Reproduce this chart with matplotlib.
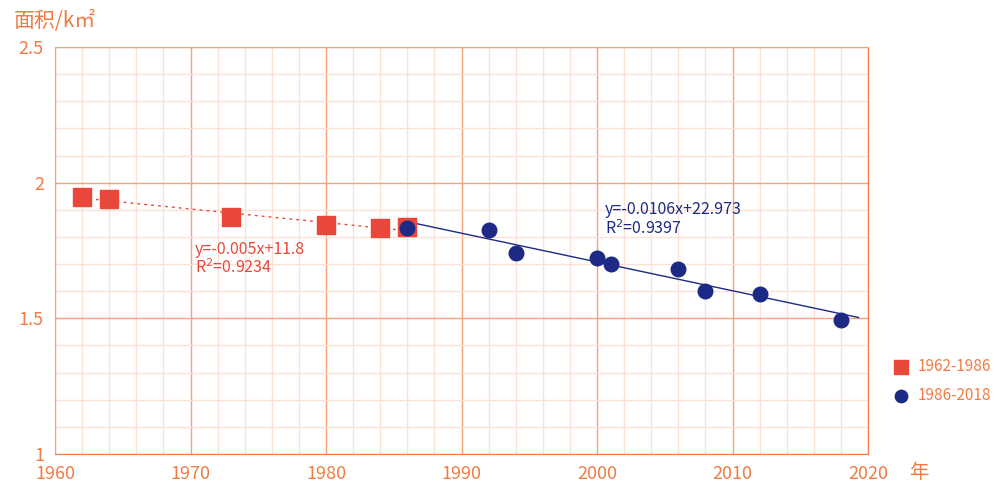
import numpy as np
import matplotlib.pyplot as plt
from matplotlib.ticker import MultipleLocator, FormatStrFormatter

plt.rcParams['font.family'] = ['Noto Sans CJK SC', 'DejaVu Sans']

# area (km2) by year
YEARS_A = [1962, 1964, 1973, 1980, 1984, 1986]
AREA_A = [1.947, 1.940, 1.873, 1.844, 1.833, 1.836]
YEARS_B = [1986, 1992, 1994, 2000, 2001, 2006, 2008, 2012, 2018]
AREA_B = [1.833, 1.826, 1.741, 1.722, 1.700, 1.682, 1.601, 1.590, 1.494]

ORANGE = '#F07B45'
RED = '#E8473A'
NAVY = '#1C2A85'

fig = plt.figure(figsize=(9.94, 4.83), dpi=100)
ax = fig.add_axes([55/994, 1-454/483, (868-55)/994, (454-47)/483])

ax.set_xlim(1960, 2020)
ax.set_ylim(1, 2.5)
ax.xaxis.set_major_locator(MultipleLocator(10))
ax.xaxis.set_minor_locator(MultipleLocator(2))
ax.yaxis.set_major_locator(MultipleLocator(0.5))
ax.yaxis.set_minor_locator(MultipleLocator(0.1))
ax.yaxis.set_major_formatter(FormatStrFormatter('%g'))
ax.grid(which='minor', color='#FCE1D6', lw=1)
ax.grid(which='major', color='#F5A278', lw=1)
ax.set_axisbelow(True)
for s in ax.spines.values():
    s.set_color('#F5A278')
ax.spines['bottom'].set_color(ORANGE)
ax.spines['right'].set_color(ORANGE)
ax.tick_params(which='both', length=0, colors=ORANGE, labelsize=13)
ax.tick_params(axis='x', pad=8)
ax.tick_params(axis='y', pad=8)

# trend lines
pa = np.polyfit(YEARS_A, AREA_A, 1)
xa = np.array([1962, 1986])
ax.plot(xa, np.polyval(pa, xa), ls=(0, (2, 3)), color=RED, lw=1)
pb = np.polyfit(YEARS_B, AREA_B, 1)
xb = np.array([1986, 2019.3])
ax.plot(xb, np.polyval(pb, xb), color=NAVY, lw=1)

ax.scatter(YEARS_A, AREA_A, marker='s', s=150, color=RED, zorder=3, label='1962-1986')
ax.scatter(YEARS_B, AREA_B, marker='o', s=110, color=NAVY, zorder=4, label='1986-2018')

ax.text(1970.3, 1.785, 'y=-0.005x+11.8\nR$^2$=0.9234', color=RED, fontsize=11.5,
        va='top', linespacing=1.05)
ax.text(2000.6, 1.932, 'y=-0.0106x+22.973\nR$^2$=0.9397', color=NAVY, fontsize=11.5,
        va='top', linespacing=1.05)

fig.text(14/994, 1-21/483, '面积/k㎡', color=ORANGE, fontsize=15, va='center')
fig.text(909/994, 1-472/483, '年', color=ORANGE, fontsize=14, va='center')

leg = fig.legend(loc='center left', bbox_to_anchor=(884/994, 1-381/483), frameon=False,
                 fontsize=11, handletextpad=0.5, labelspacing=0.75, handlelength=1.2,
                 borderpad=0, markerscale=0.85)
for t in leg.get_texts():
    t.set_color(ORANGE)

fig.savefig('out.png', dpi=100)
